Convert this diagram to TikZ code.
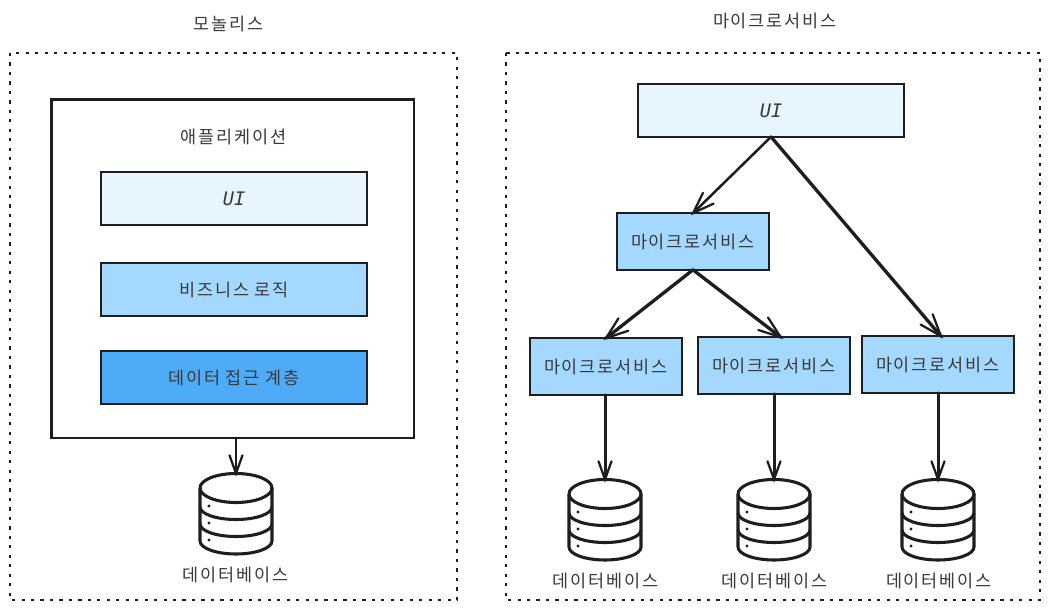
\documentclass[tikz,border=0pt]{standalone}
\usepackage{fontspec}
\setmainfont[LetterSpace=11]{Noto Sans CJK KR}
\newfontfamily\uifont{DejaVu Sans Mono}
\usetikzlibrary{decorations.markings}
\definecolor{ink}{HTML}{1E1E1E}
\definecolor{soft}{HTML}{3A3A3A}
\definecolor{pale}{HTML}{E7F5FF}
\definecolor{mid}{HTML}{A5D8FF}
\definecolor{deep}{HTML}{4DABF7}
\tikzset{
  x=0.75pt,y=-0.75pt,
  txt/.style={text=soft,font=\fontsize{13.1pt}{15pt}\selectfont,inner sep=0pt},
  frame/.style={draw=ink,line width=2.05pt,dash pattern=on 2.4pt off 4.7pt},
  appbox/.style={draw=ink,line width=2pt,fill=white,minimum width=272pt,minimum height=254pt,inner sep=0pt,outer sep=0pt},
  widebox/.style={txt,draw=ink,line width=1.9pt,minimum width=199.5pt,minimum height=39.5pt,outer sep=0pt},
  svcbox/.style={txt,draw=ink,line width=1.9pt,fill=mid,minimum width=114pt,minimum height=42.5pt,outer sep=0pt},
  link/.style={draw=ink,line width=1.9pt,line cap=round,postaction={decorate},
    decoration={markings,mark=at position 1 with {
      \draw[ink,line width=1.7pt,line cap=round,line join=miter] (-#1,-0.36*#1) -- (0,0) -- (-#1,0.36*#1);
    }}},
  link/.default=21,
  thick link/.style={link=#1,line width=2.5pt},
  thick link/.default=22,
  dbslot/.style={minimum width=55pt,minimum height=61pt,inner sep=0pt,outer sep=0pt},
  pics/dbstack/.style={code={
    \draw[ink,line width=2.3pt,fill=white,line join=round]
      (-36,-26) -- (-36,27) arc[start angle=180,end angle=0,x radius=36,y radius=13] -- (36,-26);
    \draw[ink,line width=2.3pt]
      (-36,-26) arc[start angle=180,end angle=0,x radius=36,y radius=14.5]
      arc[start angle=0,end angle=-180,x radius=36,y radius=14.5];
    \draw[ink,line width=2.3pt] (-36,-7) arc[start angle=180,end angle=0,x radius=36,y radius=12.5];
    \draw[ink,line width=2.3pt] (-36,10) arc[start angle=180,end angle=0,x radius=36,y radius=12.5];
    \foreach \dy in {-8,9,26} \fill[ink] (-27,\dy) circle[radius=1.7];
  }}
}
\begin{document}
\begin{tikzpicture}
\useasboundingbox (0,0) rectangle (1049,610);
% outer frames
\node[txt] (ttlL) at (229,24) {모놀리스};
\node[txt] (ttlR) at (775,21) {마이크로서비스};
\draw[frame] (10,53) rectangle (457,600);
\draw[frame] (506,53) rectangle (1040,600);
% monolith
\node[appbox] (app) at (232.5,268.5) {};
\node[txt] (appT) at (234,137) {애플리케이션};
\node[widebox,fill=pale] (ui1) at (234,198.5) {\uifont\itshape\fontsize{14pt}{15pt}\selectfont UI};
\node[widebox,fill=mid] (biz) at (234,289.5) {비즈니스 로직};
\node[widebox,fill=deep] (dal) at (234,377.5) {데이터 접근 계층};
\node[dbslot] (db0) at (236,514) {};
\pic at (db0.center) {dbstack};
\node[txt] (db0T) at (236,575) {데이터베이스};
\draw[link=18] (app.south -| db0.north) -- (db0.north);
% microservices
\node[widebox,fill=pale] (ui2) at (771,110.5) {\uifont\itshape\fontsize{14pt}{15pt}\selectfont UI};
\node[svcbox] (ms0) at (693,241.5) {마이크로서비스};
\node[svcbox] (ms1) at (606,366.5) {마이크로서비스};
\node[svcbox] (ms2) at (774,365.5) {마이크로서비스};
\node[svcbox] (ms3) at (938,364.5) {마이크로서비스};
\node[dbslot] (db1) at (605,520) {};
\node[dbslot] (db2) at (774,520) {};
\node[dbslot] (db3) at (938,520) {};
\pic at (db1.center) {dbstack};
\pic at (db2.center) {dbstack};
\pic at (db3.center) {dbstack};
\node[txt] (db1T) at (606,581) {데이터베이스};
\node[txt] (db2T) at (775,581) {데이터베이스};
\node[txt] (db3T) at (939,581) {데이터베이스};
\draw[link] (ui2.south) -- (ms0.north);
\draw[thick link] (ui2.south) -- ([xshift=2.2pt]ms3.north);
\draw[thick link] (ms0.south) -- (ms1.north);
\draw[thick link] (ms0.south) -- ([xshift=5pt]ms2.north);
\draw[link=18,line width=2.25pt] (ms1.south -| db1.north) -- (db1.north);
\draw[link=18,line width=2.25pt] (ms2.south -| db2.north) -- (db2.north);
\draw[link=18,line width=2.25pt] (ms3.south -| db3.north) -- (db3.north);
\end{tikzpicture}
\end{document}
